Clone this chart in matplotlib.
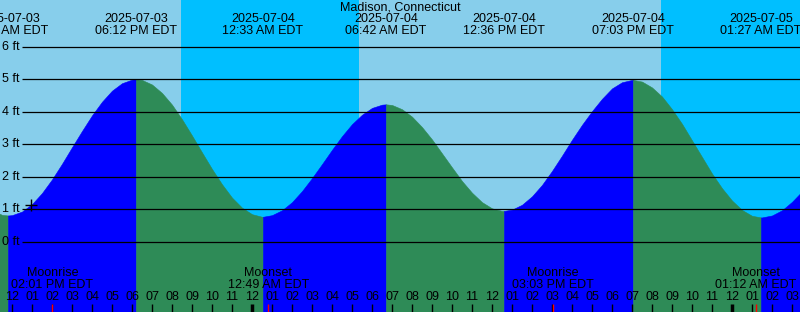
import numpy as np
import matplotlib.pyplot as plt

plt.rcParams['font.family'] = ['Liberation Sans', 'DejaVu Sans']

# half-hourly readings: hours after 12:00 PM EDT on 2025-07-03, tide height in ft
hours = np.arange(-1, 40.5, 0.5)
feet = [0.97, 0.83, 0.82, 0.93, 1.16, 1.50, 1.92, 2.40, 2.91, 3.41, 3.89, 4.31, 4.65, 4.88,
        4.99, 4.98, 4.84, 4.58, 4.22, 3.77, 3.27, 2.75, 2.24, 1.77, 1.36, 1.05, 0.85, 0.77,
        0.82, 0.97, 1.22, 1.56, 1.96, 2.39, 2.83, 3.25, 3.62, 3.91, 4.12, 4.22, 4.21, 4.08,
        3.85, 3.53, 3.15, 2.72, 2.29, 1.87, 1.51, 1.22, 1.03, 0.95, 0.99, 1.14, 1.40, 1.75,
        2.18, 2.65, 3.14, 3.60, 4.02, 4.40, 4.72, 4.91, 4.98, 4.93, 4.75, 4.47, 4.08, 3.63,
        3.12, 2.61, 2.10, 1.65, 1.27, 0.98, 0.80, 0.75, 0.81, 0.97, 1.23, 1.55, 1.93]

# high / low tides
ext_hours = [-0.2, 6.2, 12.55, 18.7, 24.6, 31.05, 37.45]
ext_feet = [0.81, 5.0, 0.77, 4.23, 0.95, 4.98, 0.75]
ext_dates = ['2025-07-03', '2025-07-03', '2025-07-04', '2025-07-04',
             '2025-07-04', '2025-07-04', '2025-07-05']
ext_times = ['11:48 AM EDT', '06:12 PM EDT', '12:33 AM EDT', '06:42 AM EDT',
             '12:36 PM EDT', '07:03 PM EDT', '01:27 AM EDT']

night_start = [8.45, 32.45]
night_end = [17.35, 41]

moon_hours = [2.02, 12.82, 27.05, 37.2]
moon_events = ['Moonrise', 'Moonset', 'Moonrise', 'Moonset']
moon_times = ['02:01 PM EDT', '12:49 AM EDT', '03:03 PM EDT', '01:12 AM EDT']

now_hour = 0.93
now_feet = 1.13

levels = [0, 1, 2, 3, 4, 5, 6]
hour_ticks = list(range(-1, 41))
hour_labels = ['%02d' % ((h + 11) % 12 + 1) for h in hour_ticks]

DAY = '#87ceeb'
NIGHT = '#00bfff'
RISE = '#0000ff'
FALL = '#2e8b57'
H = 312.0
fs = 9

fig = plt.figure(figsize=(8, 3.12), dpi=100)
ax = fig.add_axes([0, 0, 1, 1])
ax.set_xlim(-0.6, 39.4)
ax.set_ylim(-2.16, 7.44)
ax.axis('off')

ax.axvspan(-2, 41, color=DAY, lw=0, zorder=0)
for a, b in zip(night_start, night_end):
    ax.axvspan(a, b, color=NIGHT, lw=0, zorder=0)

t = np.concatenate([hours, ext_hours])
h = np.concatenate([feet, ext_feet])
order = np.argsort(t)
t, h = t[order], h[order]

bounds = [-2] + ext_hours + [41]
for i in range(len(bounds) - 1):
    a, b = bounds[i], bounds[i + 1]
    m = (t >= a) & (t <= b)
    if i == 0:
        rising = False
    elif i == len(bounds) - 2:
        rising = ext_feet[-1] < ext_feet[-2]
    else:
        rising = ext_feet[i] > ext_feet[i - 1]
    c = RISE if rising else FALL
    ax.fill_between(t[m], h[m], -3, color=c, lw=0.4, edgecolor=c, zorder=1)

ax.hlines(levels, 0.5, 39.4, color='black', lw=0.9, zorder=2)
for lv in levels:
    ax.text(-0.52, lv, '%d ft' % lv, fontsize=fs, va='center', ha='left', zorder=3)

ax.plot([now_hour], [now_feet], marker='+', color='black', ms=9, mew=1, zorder=3)

ax.text(0.5, 1 - 7.5 / H, 'Madison, Connecticut', transform=ax.transAxes,
        ha='center', va='center', fontsize=fs, zorder=4)
tr = ax.get_xaxis_transform()
for x, d, s in zip(ext_hours, ext_dates, ext_times):
    ax.text(x, 1 - 19.5 / H, d, transform=tr, ha='center', va='center', fontsize=fs, zorder=4)
    ax.text(x, 1 - 31.5 / H, s, transform=tr, ha='center', va='center', fontsize=fs, zorder=4)

for x, ev, s in zip(moon_hours, moon_events, moon_times):
    ax.text(x, 1 - 273.5 / H, ev, transform=tr, ha='center', va='center', fontsize=fs, zorder=4)
    ax.text(x, 1 - 285.5 / H, s, transform=tr, ha='center', va='center', fontsize=fs, zorder=4)
    ax.vlines(x, 0, 8.5 / H, transform=tr, color='red', lw=1, zorder=4)

for x, lab in zip(hour_ticks, hour_labels):
    thick = (x % 24) == 12
    ax.vlines(x, 0, 8.5 / H, transform=tr, color='black', lw=2.5 if thick else 1, zorder=3)
    ax.text(x, 1 - 297.5 / H, lab, transform=tr, ha='center', va='center', fontsize=fs, zorder=4)

fig.savefig('out.png', dpi=100)
